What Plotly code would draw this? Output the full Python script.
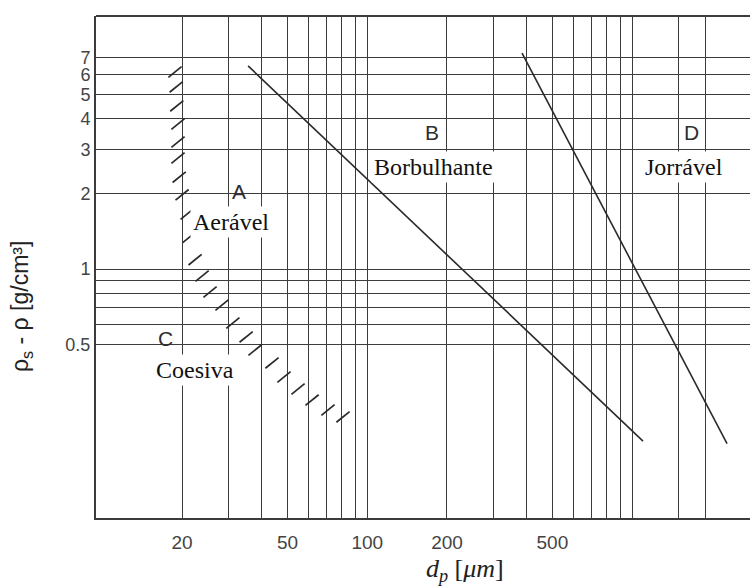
import math
import plotly.graph_objects as go

# ---- data ----
# Vertical grid (particle diameter, µm) and labels
x_grid = [20, 30, 40, 50, 60, 70, 80, 90, 100, 200, 300, 400, 500, 600, 700, 800, 900, 1000, 1500, 1900]
x_labels = ["20", "", "", "50", "", "", "", "", "100", "200", "", "", "500", "", "", "", "", "", "", ""]
# Horizontal grid (density difference, g/cm3) and labels
y_grid = [0.5, 0.6, 0.7, 0.8, 0.9, 1, 2, 3, 4, 5, 6, 7]
y_labels = ["0.5", "", "", "", "", "1", "2", "3", "4", "5", "6", "7"]

# A/B boundary
ab_dp = [35.5, 1099]
ab_rho = [6.49, 0.205]
# B/D boundary
bd_dp = [384, 2282]
bd_rho = [7.31, 0.200]
# C/A hatched boundary (hatch mark positions)
ca_dp = [18.8, 19.0, 19.1, 19.3, 19.3, 19.3, 19.5, 20.0, 20.9, 21.3, 22.4, 23.8, 25.5,
         28.3, 31.1, 34.9, 37.7, 43.7, 48.5, 54.8, 61.9, 71.1, 81.0]
ca_rho = [6.14, 5.35, 4.49, 3.80, 3.22, 2.78, 2.33, 1.98, 1.66, 1.34, 1.09, 0.938, 0.809,
          0.718, 0.608, 0.535, 0.474, 0.421, 0.370, 0.331, 0.299, 0.273, 0.256]

# Group letters and names
letters = ["A", "B", "C", "D"]
letter_dp = [32.8, 175.6, 17.25, 1669]
letter_rho = [2.05, 3.53, 0.525, 3.53]
names = ["Aerável", "Borbulhante", "Coesiva", "Jorrável"]
name_dp = [30.6, 178.6, 22.4, 1570]
name_rho = [1.54, 2.56, 0.394, 2.56]

x_range_log = [0.976, 3.445]
y_range_log = [-0.996, 1.012]

ink = "#2a2a2a"
grid = "#3c3c3c"

fig = go.Figure()

fig.add_trace(go.Scatter(x=ab_dp, y=ab_rho, mode="lines",
                         line=dict(color=ink, width=1.6), showlegend=False, hoverinfo="skip"))
fig.add_trace(go.Scatter(x=bd_dp, y=bd_rho, mode="lines",
                         line=dict(color=ink, width=1.6), showlegend=False, hoverinfo="skip"))
fig.add_trace(go.Scatter(x=ca_dp, y=ca_rho, mode="markers",
                         marker=dict(symbol="line-ne", size=12, angle=6,
                                     line=dict(color=ink, width=1.7)),
                         showlegend=False, hoverinfo="skip"))

# annotations on log axes take log10 positions
for t, xv, yv in zip(letters, letter_dp, letter_rho):
    fig.add_annotation(x=math.log10(xv), y=math.log10(yv), xref="x", yref="y", text=t,
                       showarrow=False,
                       font=dict(family="Liberation Sans, Arial", size=21, color="#2e2e2e"),
                       xanchor="center", yanchor="middle")
for t, xv, yv in zip(names, name_dp, name_rho):
    fig.add_annotation(x=math.log10(xv), y=math.log10(yv), xref="x", yref="y", text=t,
                       showarrow=False,
                       font=dict(family="Liberation Serif, Times New Roman", size=24, color="#111"),
                       bgcolor="white", borderpad=2,
                       xanchor="center", yanchor="middle")

# axis titles
fig.add_annotation(xref="paper", yref="paper", x=0.5642, y=-0.104,
                   text="<i>d<sub>p</sub></i> [<i>μm</i>]", showarrow=False,
                   font=dict(family="Liberation Serif, Times New Roman", size=26, color="#222"),
                   xanchor="center", yanchor="middle")
fig.add_annotation(xref="paper", yref="paper", x=-0.1147, y=0.4223,
                   text="ρ<sub>s</sub> - ρ [g/cm³]", showarrow=False, textangle=-90,
                   font=dict(family="Liberation Sans, Arial", size=23, color="#222"),
                   xanchor="center", yanchor="middle")

# top border
fig.add_shape(type="line", xref="paper", yref="paper", x0=0, x1=1, y0=1, y1=1,
              line=dict(color=grid, width=2))

fig.update_xaxes(type="log", range=x_range_log, tickmode="array",
                 tickvals=x_grid, ticktext=x_labels, ticks="",
                 showgrid=True, gridcolor=grid, gridwidth=1.3,
                 showline=True, linecolor=grid, linewidth=2,
                 ticklabelstandoff=6,
                 tickfont=dict(family="Liberation Sans, Arial", size=19, color="#444"),
                 zeroline=False)
fig.update_yaxes(type="log", range=y_range_log, tickmode="array",
                 tickvals=y_grid, ticktext=y_labels, ticks="",
                 showgrid=True, gridcolor=grid, gridwidth=1.3,
                 showline=True, linecolor=grid, linewidth=2,
                 tickfont=dict(family="Liberation Sans, Arial", size=18, color="#444"),
                 zeroline=False)

fig.update_layout(width=750, height=586,
                  margin=dict(l=96, r=0, t=16, b=68),
                  paper_bgcolor="white", plot_bgcolor="white",
                  showlegend=False)

fig.write_html("out.html")
